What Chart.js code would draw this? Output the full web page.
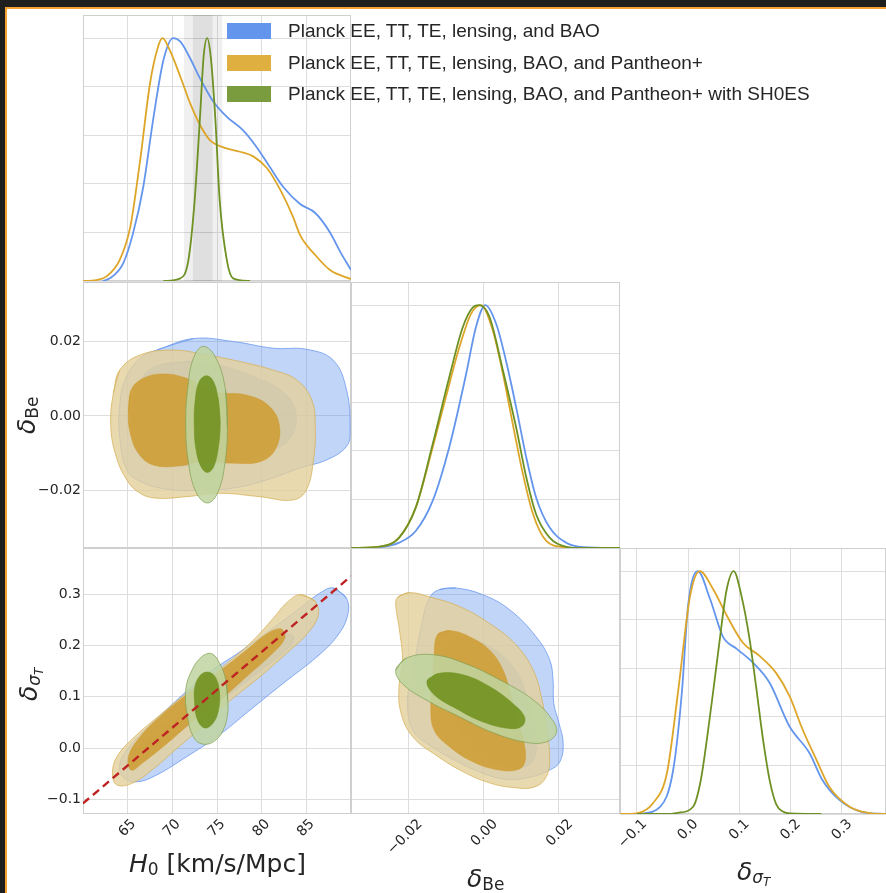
<!DOCTYPE html>
<html>
<head>
<meta charset="utf-8">
<script src="https://cdn.jsdelivr.net/npm/chart.js@4.4.1/dist/chart.umd.min.js"></script>
<style>
  html, body { margin: 0; padding: 0; background: #1e1e1e; }
  #page { position: relative; width: 886px; height: 893px; overflow: hidden; background: #1e1e1e; }
  #sheet { position: absolute; left: 5px; top: 7px; width: 900px; height: 900px; background: #fff;
           border-left: 2px solid #f5a233; border-top: 2px solid #f5a233; }
  #page canvas { position: absolute; left: 0; top: 0; }
  .title { position: absolute; font-family: 'DejaVu Sans'; font-size: 25px; line-height: 25px;
           color: #262626; white-space: nowrap; z-index: 5; }
  .it { font-style: italic; }
  .sub { font-size: 17px; position: relative; top: 3px; }
  .subsub { font-size: 12px; position: relative; top: 3px; }
  .vert { transform-origin: 0 0; transform: rotate(-90deg); }
  #legend { position: absolute; left: 227px; top: 23px; z-index: 6; }
  #legend .row { position: absolute; left: 0; height: 16px; display: flex; align-items: center;
                 white-space: nowrap; font-family: 'Liberation Sans'; font-size: 19px; color: #262626; }
  #legend .patch { width: 44px; height: 16px; margin-right: 17px; flex: none; }
</style>
</head>
<body>
<div id="page">
  <div id="sheet"></div>
  <div id="legend"></div>
  <div class="title" style="left:129px; top:851px;"><span class="it">H</span><span class="sub">0</span> [km/s/Mpc]</div>
  <div class="title" style="left:467px; top:866px;"><span class="it">δ</span><span class="sub">Be</span></div>
  <div class="title" style="left:737px; top:859px;"><span class="it">δ</span><span class="sub"><span class="it">σ</span><span class="subsub it">T</span></span></div>
  <div class="title vert" style="left:14px; top:434px;"><span class="it">δ</span><span class="sub">Be</span></div>
  <div class="title vert" style="left:16px; top:701px;"><span class="it">δ</span><span class="sub"><span class="it">σ</span><span class="subsub it">T</span></span></div>
</div>
<script>
// ---------------- data ----------------
const SERIES = [
  "Planck EE, TT, TE, lensing, and BAO",
  "Planck EE, TT, TE, lensing, BAO, and Pantheon+",
  "Planck EE, TT, TE, lensing, BAO, and Pantheon+ with SH0ES"
];

const H0_TICKS = [65, 70, 75, 80, 85];
const H0_LABELS = ["65", "70", "75", "80", "85"];
const BE_TICKS = [-0.02, 0, 0.02];
const BE_LABELS = ["\u22120.02", "0.00", "0.02"];
const ST_TICKS = [-0.1, 0, 0.1, 0.2, 0.3];
const ST_LABELS = ["\u22120.1", "0.0", "0.1", "0.2", "0.3"];
const PDF_TICKS = [0, 0.2, 0.4, 0.6, 0.8, 1.0];

// SH0ES H0 bands (1 and 2 sigma)
const SH0ES_1SIG = [72.3, 74.5];
const SH0ES_2SIG = [71.3, 75.6];

// normalised marginals [x, p]
const H0_PDF_BLUE = [[62.2,0],[63.0,0.011],[64.5,0.073],[65.6,0.196],[66.75,0.388],[67.9,0.676],[69.0,0.909],[70.1,1.0],[70.9,0.985],[72.0,0.916],[73.1,0.834],[74.6,0.738],[76.1,0.676],[77.9,0.621],[79.4,0.553],[80.9,0.47],[82.4,0.388],[84.3,0.317],[86.0,0.28],[87.65,0.2],[88.8,0.12],[90.0,0.045]];
const H0_PDF_ORANGE = [[60.0,0],[61.5,0.004],[62.6,0.018],[64.1,0.086],[65.3,0.224],[66.4,0.498],[67.5,0.813],[68.4,0.964],[68.9,1.0],[69.7,0.951],[70.9,0.841],[72.0,0.731],[73.1,0.642],[74.2,0.58],[75.7,0.55],[77.6,0.532],[79.1,0.512],[80.6,0.464],[82.1,0.374],[83.5,0.265],[84.3,0.189],[86.0,0.107],[87.65,0.045],[90.0,0.008]];
const H0_PDF_GREEN = [[69.0,0],[70.9,0.011],[71.8,0.086],[72.5,0.333],[73.1,0.676],[73.5,0.923],[73.9,1.0],[74.3,0.923],[74.8,0.676],[75.3,0.333],[76.1,0.086],[76.8,0.011],[78.7,0]];

const BE_PDF_BLUE = [[-0.0352,0],[-0.0268,0.005],[-0.0224,0.022],[-0.0180,0.070],[-0.0135,0.194],[-0.0091,0.414],[-0.0046,0.716],[-0.0020,0.909],[0.0005,1.0],[0.0034,0.922],[0.0060,0.771],[0.0087,0.579],[0.0114,0.372],[0.0140,0.208],[0.0176,0.084],[0.0220,0.022],[0.0265,0.004],[0.0363,0]];
const BE_PDF_ORANGE = [[-0.0352,0],[-0.0268,0.008],[-0.0224,0.043],[-0.0180,0.166],[-0.0135,0.414],[-0.0100,0.62],[-0.0064,0.826],[-0.0033,0.964],[-0.0006,1.0],[0.0025,0.895],[0.0052,0.716],[0.0078,0.51],[0.0105,0.304],[0.0132,0.139],[0.0167,0.029],[0.0212,0.004],[0.0265,0],[0.0363,0]];
const BE_PDF_GREEN = [[-0.0352,0],[-0.0268,0.008],[-0.0224,0.043],[-0.0180,0.166],[-0.0135,0.427],[-0.0091,0.702],[-0.0055,0.909],[-0.0028,0.991],[-0.0011,1.0],[0.0016,0.952],[0.0052,0.73],[0.0087,0.496],[0.0114,0.29],[0.0140,0.139],[0.0176,0.043],[0.0220,0.005],[0.0265,0],[0.0363,0]];

const ST_PDF_BLUE = [[-0.093,0],[-0.054,0.03],[-0.029,0.18],[-0.012,0.50],[0.0,0.855],[0.019,1.0],[0.043,0.885],[0.068,0.73],[0.095,0.68],[0.126,0.624],[0.159,0.54],[0.198,0.36],[0.237,0.25],[0.262,0.14],[0.295,0.058],[0.34,0.008],[0.386,0]];
const ST_PDF_ORANGE = [[-0.1326,0],[-0.1,0.003],[-0.068,0.045],[-0.041,0.17],[-0.019,0.51],[0.004,0.897],[0.023,1.0],[0.049,0.925],[0.076,0.815],[0.107,0.705],[0.14,0.65],[0.172,0.58],[0.198,0.485],[0.223,0.35],[0.25,0.225],[0.276,0.11],[0.315,0.03],[0.35,0.005],[0.386,0]];
const ST_PDF_GREEN = [[-0.10,0],[-0.04,0],[-0.02,0.005],[0.01,0.03],[0.025,0.14],[0.037,0.31],[0.05,0.52],[0.062,0.72],[0.075,0.92],[0.089,1.0],[0.104,0.9],[0.12,0.72],[0.133,0.52],[0.146,0.31],[0.16,0.13],[0.172,0.04],[0.185,0.01],[0.2,0.002],[0.26,0]];

// 2D credible contours (68% = 1S, 95% = 2S)
const H0_BE_BLUE_2S = [[68.25,0.0177],[72.35,0.0208],[76.83,0.0200],[81.3,0.0182],[85.04,0.0179],[88.0,0.0150],[89.5,0.0070],[89.9,-0.0038],[89.5,-0.0082],[87.3,-0.0118],[84.3,-0.0140],[80.6,-0.0172],[76.8,-0.0194],[73.1,-0.0200],[69.4,-0.0197],[66.4,-0.0176],[64.9,-0.0145],[64.1,-0.0055],[64.1,0.0025],[64.7,0.0097],[66.4,0.0155]];
const H0_BE_BLUE_1S = [[68.6,0.0137],[73.1,0.0146],[79.1,0.0106],[82.8,0.0056],[83.9,-0.0002],[83.2,-0.006],[81.3,-0.0091],[76.8,-0.0123],[71.6,-0.0136],[67.1,-0.0123],[65.6,-0.0064],[65.6,0.0025],[66.4,0.0097]];
const H0_BE_ORANGE_2S = [[63.4,0.0061],[64.1,0.0123],[66.4,0.0164],[70.1,0.0177],[73.8,0.0164],[77.6,0.0146],[81.3,0.0123],[83.9,0.0097],[85.6,0.0043],[86.0,-0.0029],[85.8,-0.0118],[85.0,-0.0199],[83.5,-0.0226],[79.8,-0.0217],[75.3,-0.0208],[71.6,-0.0217],[68.2,-0.0221],[66.4,-0.0208],[64.9,-0.0172],[63.6,-0.0100],[63.1,-0.0020]];
const H0_BE_ORANGE_1S = [[65.07,0.0007],[65.4,0.0070],[66.75,0.0101],[69.0,0.0113],[71.6,0.0101],[74.6,0.0065],[78.3,0.0056],[80.9,0.0025],[82.0,-0.0029],[81.5,-0.0091],[79.8,-0.0123],[76.8,-0.0127],[73.1,-0.0123],[70.9,-0.0134],[67.9,-0.0132],[66.2,-0.0100],[65.3,-0.0047]];
const H0_BE_GREEN_2S = [[76.16,-0.0030],[75.95,0.0070],[74.9,0.0155],[73.5,0.0187],[72.4,0.0158],[71.75,0.0080],[71.5,-0.0020],[71.8,-0.0125],[72.7,-0.0207],[73.95,-0.0234],[75.1,-0.0205],[75.9,-0.0125]];
const H0_BE_GREEN_1S = [[75.35,-0.0020],[75.1,0.0050],[74.5,0.0097],[73.75,0.0108],[73.0,0.0092],[72.55,0.0040],[72.45,-0.0025],[72.65,-0.0090],[73.25,-0.0138],[73.95,-0.0152],[74.65,-0.0135],[75.15,-0.0085]];

const H0_ST_BLUE_2S = [[88.02,0.312],[89.5,0.292],[89.6,0.257],[88.4,0.217],[86.2,0.178],[82.4,0.126],[78.7,0.074],[75.0,0.022],[71.6,-0.017],[68.2,-0.053],[66.0,-0.066],[64.5,-0.057],[64.1,-0.033],[64.9,-0.004],[66.75,0.032],[70.1,0.087],[73.8,0.143],[77.6,0.188],[81.3,0.234],[84.3,0.273],[86.5,0.302]];
const H0_ST_BLUE_1S = [[83.6,0.218],[83.3,0.200],[80.6,0.160],[77.0,0.112],[73.5,0.064],[70.0,0.020],[67.0,-0.020],[65.4,-0.043],[64.9,-0.028],[66.2,0.002],[69.0,0.046],[72.5,0.096],[76.5,0.150],[80.0,0.195],[82.5,0.222]];
const H0_ST_ORANGE_2S = [[84.3,0.299],[86.0,0.286],[86.3,0.257],[85.0,0.221],[82.8,0.185],[79.8,0.139],[76.1,0.087],[73.1,0.038],[70.5,-0.001],[68.2,-0.036],[65.6,-0.068],[63.8,-0.072],[63.3,-0.049],[63.8,-0.017],[65.6,0.019],[68.6,0.064],[72.35,0.117],[76.1,0.165],[79.1,0.211],[81.3,0.253],[82.8,0.283]];
const H0_ST_ORANGE_1S = [[82.2,0.232],[82.6,0.215],[81.3,0.186],[78.3,0.139],[75.3,0.093],[72.0,0.048],[69.4,0.009],[66.75,-0.028],[65.4,-0.043],[65.1,-0.016],[66.4,0.022],[68.6,0.061],[71.6,0.104],[75.0,0.146],[78.3,0.191],[80.6,0.223]];
const H0_ST_GREEN_2S = [[76.2,0.094],[75.98,0.133],[75.3,0.165],[74.4,0.184],[73.3,0.178],[72.2,0.152],[71.5,0.113],[71.7,0.061],[72.35,0.022],[73.3,0.008],[74.6,0.012],[75.7,0.035],[76.2,0.068]];
const H0_ST_GREEN_1S = [[75.3,0.100],[75.1,0.126],[74.6,0.143],[73.8,0.148],[73.0,0.139],[72.5,0.117],[72.5,0.087],[72.7,0.061],[73.3,0.042],[74.0,0.040],[74.8,0.055],[75.2,0.077]];

const BE_ST_BLUE_2S = [[-0.0117,0.309],[-0.0073,0.312],[-0.0002,0.299],[0.0069,0.270],[0.0140,0.217],[0.0176,0.172],[0.0185,0.133],[0.0187,0.087],[0.0201,0.048],[0.0212,0.009],[0.0203,-0.027],[0.0176,-0.043],[0.0123,-0.057],[0.0060,-0.061],[-0.0002,-0.049],[-0.0073,-0.025],[-0.0144,0.006],[-0.0188,0.035],[-0.0202,0.094],[-0.0188,0.146],[-0.0166,0.234],[-0.0144,0.292]];
const BE_ST_BLUE_1S = [[-0.0064,0.217],[0.0016,0.198],[0.0078,0.159],[0.0114,0.107],[0.0136,0.042],[0.0140,-0.010],[0.0114,-0.036],[0.0052,-0.036],[-0.0011,-0.010],[-0.0073,0.042],[-0.0108,0.113],[-0.0108,0.185]];
const BE_ST_ORANGE_2S = [[-0.0228,0.294],[-0.0197,0.303],[-0.0140,0.294],[-0.0064,0.276],[0.0016,0.243],[0.0087,0.201],[0.0132,0.152],[0.0154,0.100],[0.0167,0.042],[0.0176,-0.017],[0.0167,-0.056],[0.0136,-0.076],[0.0078,-0.077],[0.0016,-0.068],[-0.0055,-0.046],[-0.0126,-0.014],[-0.0188,0.022],[-0.0220,0.071],[-0.0224,0.126],[-0.0215,0.172],[-0.0224,0.234],[-0.0233,0.279]];
const BE_ST_ORANGE_1S = [[-0.0122,0.221],[-0.0091,0.229],[-0.0037,0.217],[0.0016,0.191],[0.0052,0.152],[0.0074,0.100],[0.0092,0.051],[0.0109,0.006],[0.0109,-0.030],[0.0087,-0.043],[0.0034,-0.042],[-0.0028,-0.027],[-0.0091,0.003],[-0.0131,0.035],[-0.0140,0.081],[-0.0135,0.133],[-0.0131,0.185]];
const BE_ST_GREEN_2S = [[-0.0233,0.152],[-0.0206,0.175],[-0.0135,0.182],[-0.0046,0.164],[0.0043,0.133],[0.0132,0.094],[0.0183,0.055],[0.0194,0.030],[0.0167,0.012],[0.0114,0.011],[0.0025,0.030],[-0.0064,0.061],[-0.0153,0.094],[-0.0215,0.125]];
const BE_ST_GREEN_1S = [[-0.0150,0.130],[-0.0122,0.145],[-0.0055,0.143],[0.0016,0.120],[0.0078,0.087],[0.0109,0.061],[0.0103,0.043],[0.0069,0.038],[-0.0002,0.051],[-0.0073,0.077],[-0.0131,0.104]];

// delta_sigmaT tracking H0 (dashed reference line)
const H0_ST_RELATION = [[60, -0.108], [90, 0.335]];

// ---------------- styling ----------------
const W = 886, H = 893;
const INK = '#262626', GRID = '#dddddd', EDGE = '#cfcfcf';
const LINE = ['rgb(100,149,237)', 'rgb(221,166,40)', 'rgb(110,145,36)'];
const PATCH = ['rgb(100,149,237)', 'rgb(223,176,64)', 'rgb(122,155,62)'];
const FILL = [
  { outer: 'rgba(100,149,237,0.40)', inner: 'rgba(100,149,237,0.45)', edge: 'rgba(100,149,237,0.75)' },
  { outer: 'rgba(228,208,155,0.80)', inner: 'rgba(206,152,40,0.80)', edge: 'rgba(214,176,86,0.75)' },
  { outer: 'rgba(192,213,160,0.85)', inner: 'rgba(115,147,35,0.92)', edge: 'rgba(128,160,80,0.70)' }
];

const COL = [[83, 351], [351, 620], [620, 886]];
const ROW = [[15, 281], [282, 548], [548, 814]];

const H0_AX = { min: 60, max: 90, ticks: H0_TICKS, labels: H0_LABELS, shift: 6 };
const BE_AX = { min: -0.0352, max: 0.0363, ticks: BE_TICKS, labels: BE_LABELS, shift: 12 };
const BE_AXY = { min: -0.0355, max: 0.036, ticks: BE_TICKS, labels: BE_LABELS };
const ST_AX = { min: -0.1287, max: 0.390, ticks: ST_TICKS, labels: ST_LABELS, shift: 8 };
const STX_AX = { min: -0.1326, max: 0.386, ticks: ST_TICKS, labels: ST_LABELS, shift: 8 };
const PDF_AX = { min: 0, max: 1.095, ticks: PDF_TICKS, labels: null };
const bare = (ax) => Object.assign({}, ax, { labels: null });

// ---------------- legend ----------------
const legend = document.getElementById('legend');
SERIES.forEach((name, i) => {
  const row = document.createElement('div');
  row.className = 'row';
  row.style.top = (i * 31.5) + 'px';
  const patch = document.createElement('span');
  patch.className = 'patch';
  patch.style.background = PATCH[i];
  row.appendChild(patch);
  row.appendChild(document.createTextNode(name));
  legend.appendChild(row);
});

// ---------------- helpers ----------------
const toXY = (pts) => pts.map(([x, y]) => ({ x, y }));

function curve(pts, color) {
  return { data: toXY(pts), borderColor: color, borderWidth: 1.8, fill: false,
           cubicInterpolationMode: 'monotone' };
}

function region(pts, fill, edge, edgeWidth) {
  // wrap two points past the start so the smoothed outline closes without a corner
  const loop = pts.concat(pts.slice(0, 2));
  return { data: toXY(loop), backgroundColor: fill, borderColor: edge, borderWidth: edgeWidth,
           fill: 'shape', tension: 0.4 };
}

function band(range, yr, color) {
  const pts = [[range[0], yr.min], [range[0], yr.max], [range[1], yr.max], [range[1], yr.min]];
  return { data: toXY(pts), backgroundColor: color, borderWidth: 0, fill: 'shape', tension: 0 };
}

function contours(sets) {
  // sets: [[outer, inner] for blue, orange, green]
  const out = [];
  sets.forEach(([outer, inner], i) => {
    out.push(region(outer, FILL[i].outer, FILL[i].edge, 1));
    out.push(region(inner, FILL[i].inner, FILL[i].inner, 0.6));
  });
  return out;
}

const framePlugin = {
  id: 'frame',
  beforeDatasetsDraw(chart) {
    const { ctx, chartArea: a } = chart;
    ctx.save();
    ctx.strokeStyle = EDGE;
    ctx.lineWidth = 1;
    ctx.strokeRect(a.left + 0.5, a.top + 0.5, a.right - a.left - 1, a.bottom - a.top - 1);
    ctx.restore();
  }
};

function scaleOpts(ax, horizontal, size) {
  return {
    type: 'linear', display: true, min: ax.min, max: ax.max,
    afterBuildTicks: (s) => { s.ticks = ax.ticks.map((v) => ({ value: v })); },
    afterFit: (s) => {
      if (horizontal) s.height = size; else s.width = size;
      s.paddingLeft = s.paddingRight = s.paddingTop = s.paddingBottom = 0;
    },
    grid: { color: GRID, lineWidth: 1, drawTicks: false },
    border: { display: false },
    ticks: {
      display: !!ax.labels, autoSkip: false,
      minRotation: horizontal ? 45 : 0, maxRotation: horizontal ? 45 : 0,
      padding: 2, labelOffset: horizontal ? (ax.shift || 0) : 0,
      color: INK, font: { family: 'DejaVu Sans', size: 14 },
      callback: (v, i) => (ax.labels ? ax.labels[i] : '')
    }
  };
}

function panel(col, row, xAx, yAx, datasets) {
  const canvas = document.createElement('canvas');
  canvas.width = W;
  canvas.height = H;
  document.getElementById('page').appendChild(canvas);
  const [left, right] = COL[col];
  const [top, bottom] = ROW[row];
  const yw = yAx.labels ? left : 0;
  const xh = xAx.labels ? H - bottom : 0;
  // earlier entries are painted first (underneath)
  datasets.forEach((d, i) => { d.order = datasets.length - i; });
  return new Chart(canvas, {
    type: 'line',
    data: { datasets },
    options: {
      responsive: false, animation: false, devicePixelRatio: 1,
      layout: { padding: { left: left - yw, top: top, right: W - right, bottom: H - bottom - xh } },
      elements: { point: { radius: 0 } },
      plugins: { legend: { display: false }, tooltip: { enabled: false } },
      scales: { x: scaleOpts(xAx, true, xh), y: scaleOpts(yAx, false, yw) }
    },
    plugins: [framePlugin]
  });
}

// ---------------- panels ----------------
// H0 marginal with SH0ES band
panel(0, 0, bare(H0_AX), PDF_AX, [
  band(SH0ES_2SIG, PDF_AX, 'rgba(0,0,0,0.06)'),
  band(SH0ES_1SIG, PDF_AX, 'rgba(0,0,0,0.075)'),
  curve(H0_PDF_BLUE, LINE[0]),
  curve(H0_PDF_ORANGE, LINE[1]),
  curve(H0_PDF_GREEN, LINE[2])
]);

// H0 vs delta_Be
panel(0, 1, bare(H0_AX), BE_AXY, contours([
  [H0_BE_BLUE_2S, H0_BE_BLUE_1S],
  [H0_BE_ORANGE_2S, H0_BE_ORANGE_1S],
  [H0_BE_GREEN_2S, H0_BE_GREEN_1S]
]));

// delta_Be marginal
panel(1, 1, bare(BE_AX), PDF_AX, [
  curve(BE_PDF_BLUE, LINE[0]),
  curve(BE_PDF_ORANGE, LINE[1]),
  curve(BE_PDF_GREEN, LINE[2])
]);

// H0 vs delta_sigmaT
panel(0, 2, H0_AX, ST_AX, contours([
  [H0_ST_BLUE_2S, H0_ST_BLUE_1S],
  [H0_ST_ORANGE_2S, H0_ST_ORANGE_1S],
  [H0_ST_GREEN_2S, H0_ST_GREEN_1S]
]).concat([{
  data: toXY(H0_ST_RELATION), borderColor: 'rgb(190,34,34)', borderWidth: 2.4,
  borderDash: [8, 5], fill: false, tension: 0
}]));

// delta_Be vs delta_sigmaT
panel(1, 2, BE_AX, bare(ST_AX), contours([
  [BE_ST_BLUE_2S, BE_ST_BLUE_1S],
  [BE_ST_ORANGE_2S, BE_ST_ORANGE_1S],
  [BE_ST_GREEN_2S, BE_ST_GREEN_1S]
]));

// delta_sigmaT marginal
panel(2, 2, STX_AX, PDF_AX, [
  curve(ST_PDF_BLUE, LINE[0]),
  curve(ST_PDF_ORANGE, LINE[1]),
  curve(ST_PDF_GREEN, LINE[2])
]);
</script>
</body>
</html>
